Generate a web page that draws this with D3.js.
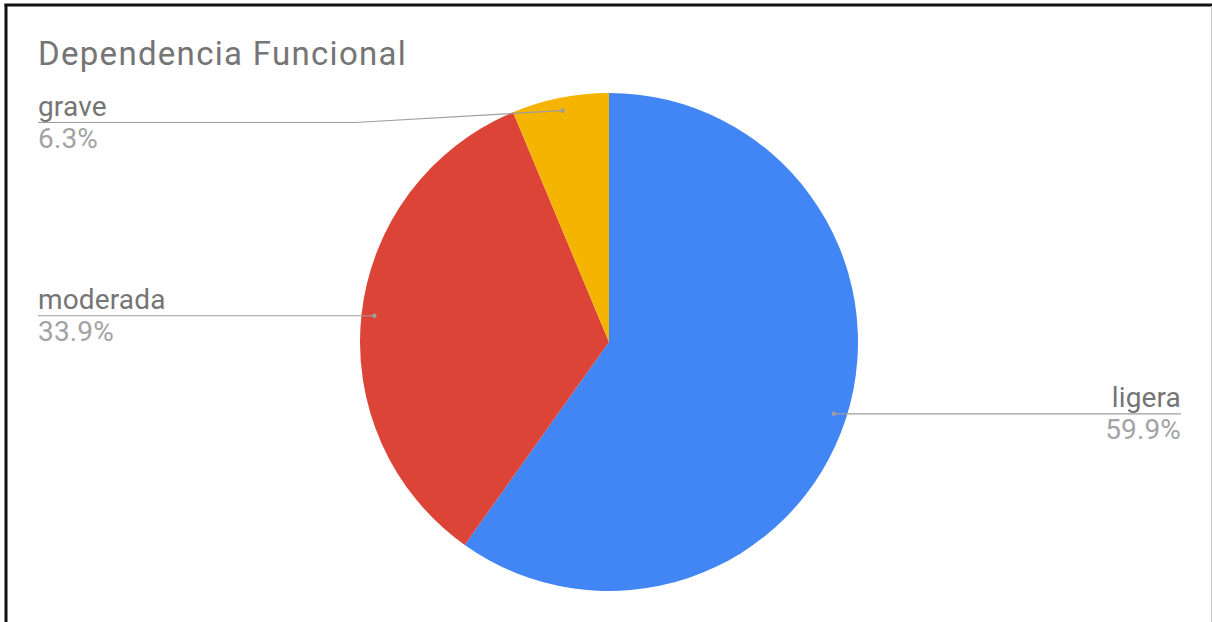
<!DOCTYPE html>
<html>
<head>
<meta charset="utf-8">
<script src="https://cdn.jsdelivr.net/npm/d3@7"></script>
<style>
  html, body { margin: 0; padding: 0; background: #fff; }
  svg { display: block; }
  text { font-family: Roboto, "Noto Sans", sans-serif; }
</style>
</head>
<body>
<svg id="chart" width="1212" height="622"></svg>
<script>
// Functional dependence levels and their shares (%)
const categories = ["ligera", "moderada", "grave"];
const shares = [59.9, 33.9, 6.3];
const shareLabels = ["59.9%", "33.9%", "6.3%"];
const sliceColors = ["#4285f4", "#db4437", "#f4b400"];
const chartTitle = "Dependencia Funcional";

const W = 1212, H = 622;
const svg = d3.select("#chart");

// outer frame
svg.append("line").attr("x1", 6).attr("x2", 6).attr("y1", 4).attr("y2", H)
  .attr("stroke", "#111").attr("stroke-width", 3);
svg.append("line").attr("x1", 4.5).attr("x2", W).attr("y1", 5).attr("y2", 5)
  .attr("stroke", "#111").attr("stroke-width", 3);
svg.append("line").attr("x1", W - 0.5).attr("x2", W - 0.5).attr("y1", 6).attr("y2", H)
  .attr("stroke", "#c8c8c8").attr("stroke-width", 1);

// title
svg.append("text")
  .attr("x", 38).attr("y", 64.5)
  .attr("font-size", 33)
  .attr("letter-spacing", 1.3)
  .attr("fill", "#757575")
  .text(chartTitle);

const cx = 609, cy = 342, R = 249;
const data = categories.map((c, i) => ({ name: c, value: shares[i], label: shareLabels[i], color: sliceColors[i] }));

const pie = d3.pie().sort(null).value(d => d.value);
const arcs = pie(data);
const arc = d3.arc().innerRadius(0).outerRadius(R);

const g = svg.append("g").attr("transform", `translate(${cx},${cy})`);
g.selectAll("path.slice")
  .data(arcs)
  .join("path")
  .attr("class", "slice")
  .attr("d", arc)
  .attr("fill", d => d.data.color);

// leader lines and labels
const dotR = R * 0.948;
const leftTextX = 38, rightTextX = 1181;
const minLineY = 122.5;
const elbowLeftX = 355;
const lineColor = "#9e9e9e";

arcs.forEach(a => {
  const mid = (a.startAngle + a.endAngle) / 2;
  const dx = Math.sin(mid) * dotR, dy = -Math.cos(mid) * dotR;
  const px = cx + dx, py = cy + dy;
  const right = dx > 0;
  const ly = Math.max(py, minLineY);
  let pts;
  if (right) {
    pts = [[px, py], [rightTextX, ly]];
  } else if (Math.abs(ly - py) > 1) {
    pts = [[px, py], [elbowLeftX, ly], [leftTextX, ly]];
  } else {
    pts = [[px, py], [leftTextX, ly]];
  }
  svg.append("path")
    .attr("d", d3.line()(pts))
    .attr("fill", "none")
    .attr("stroke", lineColor)
    .attr("stroke-width", 1.2);
  svg.append("circle")
    .attr("cx", px).attr("cy", py).attr("r", 2.2)
    .attr("fill", lineColor);

  const tx = right ? rightTextX : leftTextX;
  const anchor = right ? "end" : "start";
  svg.append("text")
    .attr("x", tx).attr("y", ly - 6.5)
    .attr("text-anchor", anchor)
    .attr("font-size", 28)
    .attr("letter-spacing", 0.15)
    .attr("fill", "#757575")
    .text(a.data.name);
  svg.append("text")
    .attr("x", tx).attr("y", ly + 25.5)
    .attr("text-anchor", anchor)
    .attr("font-size", 28)
    .attr("letter-spacing", 0.15)
    .attr("fill", "#a3a3a3")
    .text(a.data.label);
});
</script>
</body>
</html>
